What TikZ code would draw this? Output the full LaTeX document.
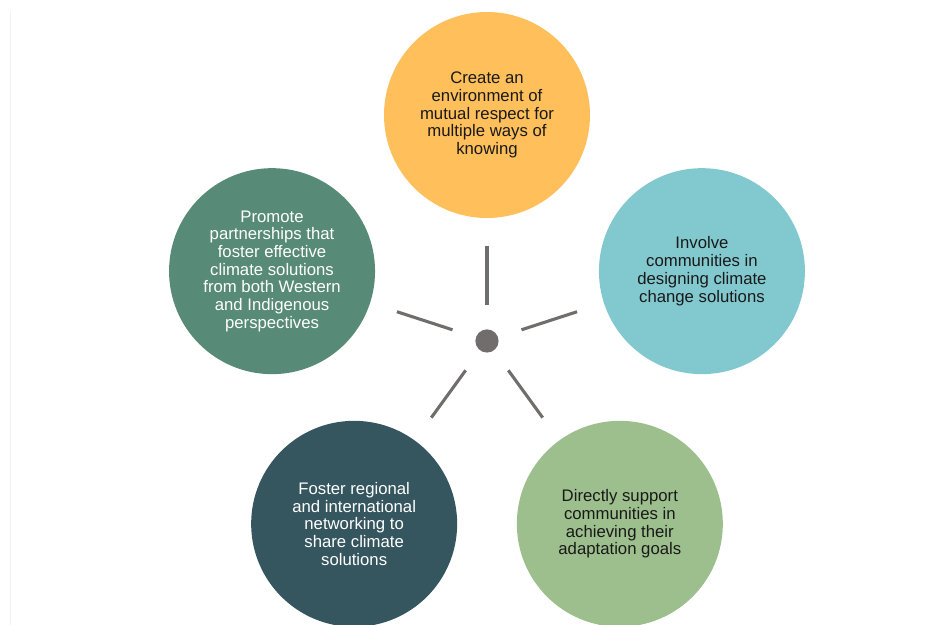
\documentclass[tikz,border=0pt]{standalone}
\usepackage{fontspec}
\setmainfont{Liberation Sans}
\definecolor{sunorange}{HTML}{FFBF5B}
\definecolor{lightteal}{HTML}{82C9CF}
\definecolor{darkgreen}{HTML}{588B77}
\definecolor{darkslate}{HTML}{35555F}
\definecolor{sagegreen}{HTML}{9DBF8D}
\definecolor{spokegray}{HTML}{716D6D}

\begin{document}
\begin{tikzpicture}

        \useasboundingbox (-12.175,-7.1) rectangle (11.625,8.525);
        \draw[gray!10, line width=0.6pt] (-11.925,8.25) -- (-11.925,-7.1);

        \begin{scope}[every node/.style={circle, minimum size=5.15cm, inner sep=0pt, align=center,
            font=\fontsize{11.9}{12.6}\selectfont}]
          \node[fill=sunorange, text=black!90] (1) at (90:5.65)  {Create an\\environment of\\mutual respect for\\multiple ways of\\knowing};
          \node[fill=lightteal, text=black!90] (2) at (18:5.65)  {Involve\\communities in\\designing climate\\change solutions};
          \node[fill=sagegreen, text=black!90] (3) at (306:5.65) {Directly support\\communities in\\achieving their\\adaptation goals};
          \node[fill=darkslate, text=white]    (4) at (234:5.65) {Foster regional\\and international\\networking to\\share climate\\solutions};
          \node[fill=darkgreen, text=white]    (5) at (162:5.65) {Promote\\partnerships that\\foster effective\\climate solutions\\from both Western\\and Indigenous\\perspectives};
        \end{scope}

        \node[circle, fill=spokegray, minimum size=0.58cm, inner sep=0pt] (0) at (0,0) {};

        \begin{scope}[every edge/.style={draw, spokegray, line width=2.2pt, shorten <=0.61cm, shorten >=0.7cm}]
          \path (0) edge (1);
          \path (0) edge (2);
          \path (0) edge (3);
          \path (0) edge (4);
          \path (0) edge (5);
        \end{scope}

      \end{tikzpicture}
\end{document}
